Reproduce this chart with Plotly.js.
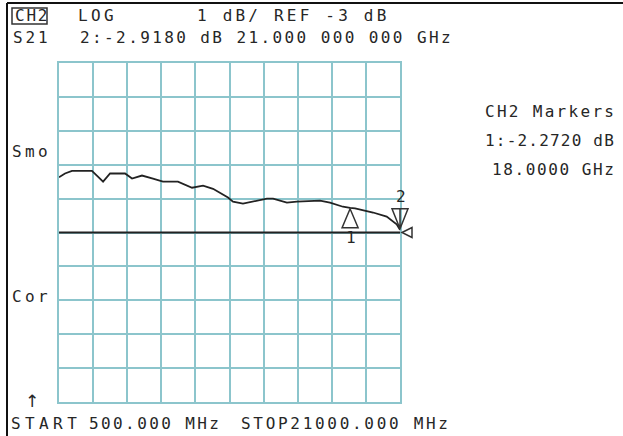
<!DOCTYPE html>
<html>
<head>
<meta charset="utf-8">
<script src="https://cdn.plot.ly/plotly-3.0.1.min.js"></script>
<style>
html,body{margin:0;padding:0;background:#fff;}
#chart{width:623px;height:436px;}
</style>
</head>
<body>
<div id="chart"></div>
<script>
// ---- data ----
const freqGHz = [0.5, 0.86, 1.28, 2.48, 2.84, 3.15, 3.57, 4.47, 4.89, 5.49, 6.15, 6.75, 7.65, 8.5, 9.16, 9.76, 10.66, 10.96, 11.56, 12.16, 13.0, 13.37, 14.2, 14.8, 16.19, 16.79, 17.57, 18.0, 18.3, 19.38, 20.2, 20.8, 21.0];
const s21dB = [-1.37, -1.26, -1.18, -1.18, -1.35, -1.50, -1.26, -1.26, -1.41, -1.32, -1.41, -1.50, -1.50, -1.68, -1.62, -1.71, -1.97, -2.09, -2.15, -2.09, -2.00, -2.00, -2.12, -2.09, -2.06, -2.12, -2.24, -2.272, -2.29, -2.41, -2.53, -2.76, -2.918];
const markerIds = ["1", "2"];
const markerFreqGHz = [18.0, 21.0];
const markerDB = [-2.272, -2.918];
const refLevelDB = -3;
const startGHz = 0.5, stopGHz = 21.0;
const scaleDBperDiv = 1;

const labelTexts = ["CH2", "LOG", "1 dB/ REF -3 dB", "S21", "2:-2.9180 dB 21.000 000 000 GHz",
  "Smo", "Cor", "CH2 Markers", "1:-2.2720 dB", "18.0000 GHz", "↑",
  "START", "500.000 MHz", "STOP21000.000 MHz"];

// ---- layout helpers (pixel placement of screen texts) ----
const L = 59, R = 400, T = 63, B = 402;
const PX = x => (x - L) / (R - L);
const PY = y => (B - y) / (B - T);
const labelPos = [[14,16],[77,16],[196,16],[12,38],[79,38],[11,151],[11,296],[484,111],[484,140],[491,169],[24,401],[10,423],[88,423],[240,423]];
const labelSpacing = [1.8,3.4,3.2,2.9,2.4,3.4,3.4,2.3,1.2,1.6,0,4.4,2.4,2.7];
const labelSize = [16,16,16,16,16,16,16,16,16,16,17,16,16,16];
const labelFont = i => (labelTexts[i] === "↑" ? "DejaVu Sans" : "DejaVu Sans Mono");
const TXT = "#262626";

const annotations = labelTexts.map((t, i) => ({
  text: t, xref: "paper", yref: "paper", x: PX(labelPos[i][0]), y: PY(labelPos[i][1]),
  xanchor: "left", yanchor: "middle", align: "left", showarrow: false,
  font: {family: labelFont(i), size: labelSize[i], color: TXT}, borderpad: 0
}));
// marker number labels
const markerLabelShift = [-30, 33];
markerIds.forEach((id, i) => {
  annotations.push({
    text: id, x: markerFreqGHz[i], y: markerDB[i], xref: "x", yref: "y",
    showarrow: false, yshift: markerLabelShift[i], xshift: 1,
    font: {family: "DejaVu Sans Mono", size: 16, color: TXT}, borderpad: 0
  });
});

// fraction of the x axis for a frequency (for decorations drawn past the grid edge)
const fx = f => (f - startGHz) / (stopGHz - startGHz);

const grid = "#8cc5cc";
const shapes = [
  // reference line
  {type: "line", xref: "x", yref: "y", x0: startGHz, x1: stopGHz, y0: refLevelDB, y1: refLevelDB,
   line: {color: "#222", width: 2}},
  // marker 1: up triangle below point
  {type: "path", xref: "paper", yref: "y", xsizemode: "pixel", ysizemode: "pixel",
   xanchor: fx(markerFreqGHz[0]), yanchor: markerDB[0],
   path: "M0,-1 L-8,-20 L8,-20 Z", line: {color: "#333", width: 1.5}},
  // marker 2: down triangle above point
  {type: "path", xref: "paper", yref: "y", xsizemode: "pixel", ysizemode: "pixel",
   xanchor: fx(markerFreqGHz[1]), yanchor: markerDB[1],
   path: "M0,1 L-8,21 L8,21 Z M0,1 L0,21", line: {color: "#333", width: 1.5}},
  // reference position indicator
  {type: "path", xref: "paper", yref: "y", xsizemode: "pixel", ysizemode: "pixel",
   xanchor: fx(stopGHz), yanchor: refLevelDB,
   path: "M2,0 L12,5 L12,-5 Z", line: {color: "#333", width: 1.5}},
  // CH2 box
  {type: "rect", xref: "paper", yref: "paper", x0: PX(12), x1: PX(47), y0: PY(24), y1: PY(8),
   line: {color: "#333", width: 1.5}},
  // outer frame (left, top)
  {type: "line", xref: "paper", yref: "paper", x0: PX(7), x1: PX(7), y0: PY(3), y1: PY(436),
   line: {color: "#111", width: 2}},
  {type: "line", xref: "paper", yref: "paper", x0: PX(7), x1: PX(623), y0: PY(3), y1: PY(3),
   line: {color: "#111", width: 2}}
];

const trace = {
  x: freqGHz, y: s21dB, type: "scatter", mode: "lines",
  line: {color: "#222", width: 1.8}, hoverinfo: "skip"
};

const layout = {
  width: 623, height: 436,
  margin: {l: L, r: 623 - R, t: T, b: 436 - B, pad: 0},
  paper_bgcolor: "#fff", plot_bgcolor: "#fff",
  showlegend: false,
  xaxis: {range: [startGHz, stopGHz], tick0: startGHz, dtick: (stopGHz - startGHz) / 10,
          showgrid: true, gridcolor: grid, gridwidth: 2, showticklabels: false, ticks: "",
          zeroline: false, showline: true, mirror: true, linecolor: grid, linewidth: 2},
  yaxis: {range: [refLevelDB - 5 * scaleDBperDiv, refLevelDB + 5 * scaleDBperDiv],
          tick0: refLevelDB, dtick: scaleDBperDiv,
          showgrid: true, gridcolor: grid, gridwidth: 2, showticklabels: false, ticks: "",
          zeroline: false, showline: true, mirror: true, linecolor: grid, linewidth: 2},
  annotations: annotations,
  shapes: shapes
};

Plotly.newPlot("chart", [trace], layout, {staticPlot: true, displayModeBar: false}).then(gd => {
  gd.querySelectorAll(".annotation").forEach(g => {
    const idx = +g.getAttribute("data-index");
    const sp = labelSpacing[idx];
    if (sp) {
      const t = g.querySelector(".annotation-text");
      if (t) t.style.letterSpacing = sp + "px";
    }
  });
});
</script>
</body>
</html>
